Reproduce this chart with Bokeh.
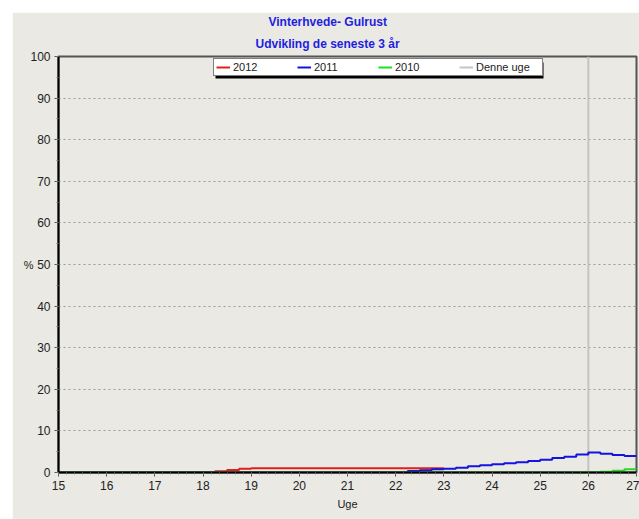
from bokeh.plotting import figure
from bokeh.models import Range1d, FixedTicker, Legend, LegendItem, BoxAnnotation, Title
from bokeh.embed import file_html
from bokeh.resources import INLINE

# ---- data ----
x_2012 = [15, 18.25, 18.5, 18.75, 19.0, 23.0]
y_2012 = [0, 0.3, 0.6, 0.9, 1.05, 1.05]

x_2011 = [15, 22.25, 22.5, 22.75, 23.0, 23.25, 23.5, 23.75, 24.0, 24.25, 24.5,
          24.75, 25.0, 25.25, 25.5, 25.75, 26.0, 26.25, 26.5, 26.75, 27.0]
y_2011 = [0, 0.36, 0.52, 0.76, 0.92, 1.16, 1.48, 1.72, 1.96, 2.2, 2.44,
          2.76, 3.08, 3.49, 3.8, 4.3, 4.8, 4.5, 4.2, 3.95, 3.95]

x_2010 = [15, 26.25, 26.5, 26.75, 27.0]
y_2010 = [0, 0.2, 0.45, 0.8, 0.8]

denne_uge = 26

x_ticks = list(range(15, 28))
y_ticks = list(range(0, 101, 10))

title_lines = ["Vinterhvede- Gulrust", "Udvikling de seneste 3 år"]
legend_labels = ["2012", "2011", "2010", "Denne uge"]

# ---- styling ----
BG = "#EAE9E4"
FONT = "Liberation Sans"
RED = "#E41E1E"
BLUE = "#1414E0"
GREEN = "#22DD22"
GRAY = "#C4C4C4"
TITLE_COLOR = "#1E1EE0"

p = figure(width=627, height=507, output_backend="svg", toolbar_location=None,
           x_range=Range1d(15, 27), y_range=Range1d(0, 100),
           background_fill_color=BG, border_fill_color=BG,
           min_border_left=46, min_border_right=3, min_border_top=44,
           min_border_bottom=47, margin=(12, 0, 0, 12))

# first title line (outer)
p.title.text = title_lines[0]
p.title.align = "left"
p.title.offset = 210
p.title.text_color = TITLE_COLOR
p.title.text_font = FONT
p.title.text_font_size = "12px"
p.title.text_font_style = "bold"
p.title.standoff = 1
# second title line (closest to the frame)
p.add_layout(Title(text=title_lines[1], align="left", offset=197,
                   text_color=TITLE_COLOR, text_font=FONT,
                   text_font_size="12px", text_font_style="bold",
                   standoff=11), "above")

# "Denne uge" vertical marker (drawn first, behind the series)
rdu = p.line([denne_uge, denne_uge], [y_ticks[0], y_ticks[-1]],
             line_color=GRAY, line_width=2)

r12 = p.step(x_2012, y_2012, mode="after", line_color=RED, line_width=2)
r11 = p.step(x_2011, y_2011, mode="after", line_color=BLUE, line_width=2)
r10 = p.step(x_2010, y_2010, mode="after", line_color=GREEN, line_width=2)

# legend drop shadow (canvas pixel units)
shadow = BoxAnnotation(left=203, right=531, top=50, bottom=66,
                       left_units="canvas", right_units="canvas",
                       top_units="canvas", bottom_units="canvas",
                       fill_color="black", fill_alpha=1.0, line_color=None)
p.add_layout(shadow)

legend = Legend(items=[LegendItem(label=legend_labels[0], renderers=[r12]),
                       LegendItem(label=legend_labels[1], renderers=[r11]),
                       LegendItem(label=legend_labels[2], renderers=[r10]),
                       LegendItem(label=legend_labels[3], renderers=[rdu])],
                orientation="horizontal", location=(155, 396),
                glyph_width=14, glyph_height=8, label_height=8,
                label_width=64, label_standoff=3, spacing=0, padding=2,
                margin=0, label_text_font=FONT, label_text_font_size="11px",
                label_text_color="#222222", border_line_color="black",
                border_line_width=1, background_fill_color="white",
                background_fill_alpha=1.0)
p.add_layout(legend, "center")

# axes
p.xaxis.ticker = FixedTicker(ticks=x_ticks,
                             minor_ticks=[15 + i / 6 for i in range(0, 73)])
p.yaxis.ticker = FixedTicker(ticks=y_ticks, minor_ticks=list(range(0, 101, 5)))
p.xaxis.axis_label = "Uge"
p.yaxis.axis_label = "%"
for ax in (p.xaxis[0], p.yaxis[0]):
    ax.axis_line_color = "black"
    ax.axis_line_width = 2
    ax.major_tick_line_color = "#555555"
    ax.minor_tick_line_color = "#777777"
    ax.major_tick_out = 4
    ax.major_tick_in = 0
    ax.minor_tick_out = 2
    ax.minor_tick_in = 0
    ax.major_label_text_font = FONT
    ax.major_label_text_font_size = "12px"
    ax.major_label_text_color = "#222222"
    ax.axis_label_text_font = FONT
    ax.axis_label_text_font_size = "11px"
    ax.axis_label_text_font_style = "normal"
    ax.axis_label_text_color = "#222222"
    ax.major_label_standoff = 4
p.xaxis.axis_label_standoff = 5
p.yaxis.axis_label_standoff = -6
p.yaxis.axis_label_orientation = "horizontal"

p.xgrid.grid_line_color = None
p.ygrid.grid_line_color = "#9A9A9A"
p.ygrid.grid_line_dash = "2 3"
p.ygrid.grid_line_width = 1

p.outline_line_color = "#555555"
p.outline_line_width = 2

open("out.html", "w").write(file_html(p, INLINE))
